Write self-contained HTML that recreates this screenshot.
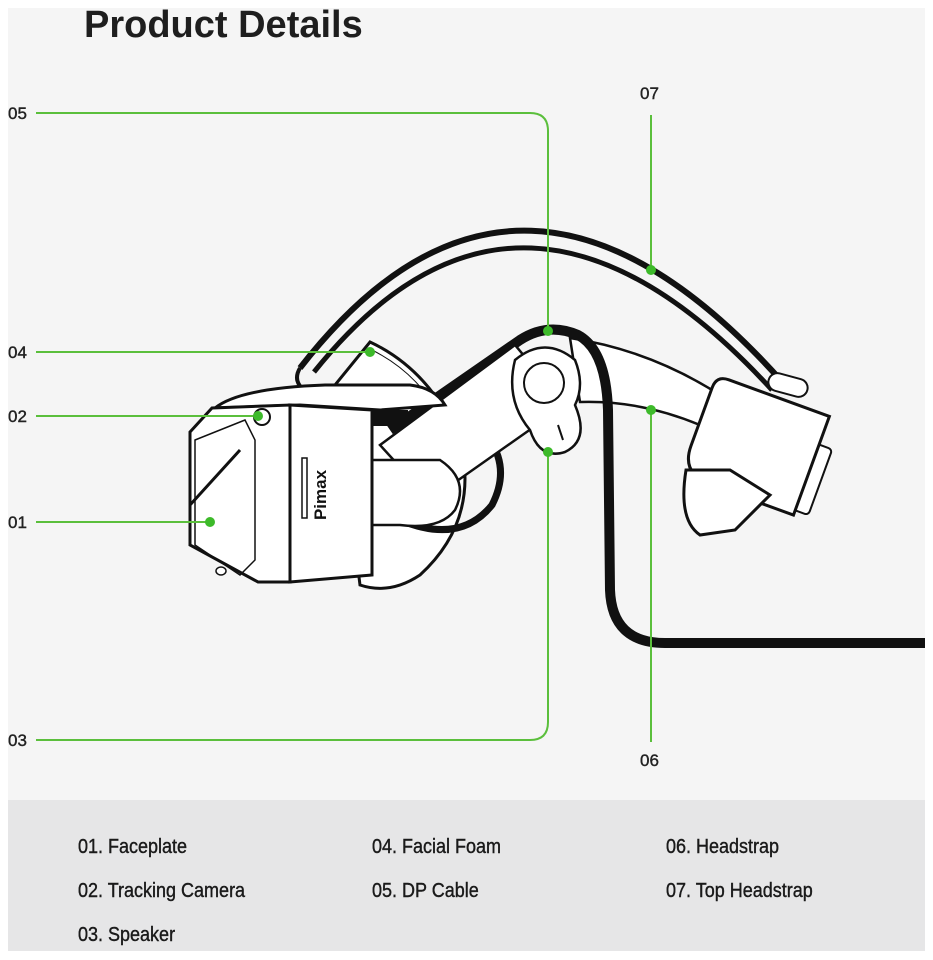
<!DOCTYPE html>
<html><head><meta charset="utf-8"><style>
html,body{margin:0;padding:0;background:#fff;}
body{width:933px;height:960px;position:relative;overflow:hidden;font-family:"Liberation Sans",sans-serif;}
.bg{position:absolute;left:8px;top:8px;width:917px;height:792px;background:#f5f5f5;}
.leg{position:absolute;left:8px;top:800px;width:917px;height:151px;background:#e6e6e7;}
.t{position:absolute;font-size:20px;color:#1a1a1a;white-space:nowrap;transform:scaleX(0.9);transform-origin:left top;-webkit-text-stroke:0.4px #1a1a1a;}
</style></head><body>
<div class="bg"></div>
<div class="leg"></div>
<div style="position:absolute;left:84px;top:4px;font-size:38px;font-weight:bold;color:#1e1e1e;">Product Details</div>
<svg width="933" height="960" style="position:absolute;left:0;top:0" xmlns="http://www.w3.org/2000/svg">
<g font-family="Liberation Sans" font-size="17" fill="#222" stroke="#222" stroke-width="0.4">
<text x="8" y="119">05</text><text x="8" y="358">04</text><text x="8" y="422">02</text>
<text x="8" y="528">01</text><text x="8" y="746">03</text>
<text x="640" y="99">07</text><text x="640" y="766">06</text>
</g>
<!-- top headstrap -->
<path d="M300,368 Q520,85 785,385" fill="none" stroke="#111" stroke-width="6"/>
<path d="M314,372 Q520,115 772,390" fill="none" stroke="#111" stroke-width="5"/>
<path d="M300,368 Q294,378 300,386" fill="none" stroke="#111" stroke-width="4"/>
<rect x="768" y="376" width="40" height="18" rx="9" fill="#fff" stroke="#111" stroke-width="2" transform="rotate(15 788 385)"/>
<!-- facial foam -->
<path d="M335,385 L370,342 Q430,370 460,440 Q480,520 420,575 Q390,595 360,585 Z" fill="#fff" stroke="#111" stroke-width="3"/>
<path d="M372,350 Q428,378 452,440" fill="none" stroke="#111" stroke-width="1"/>
<!-- back loop cable -->
<path d="M400,520 Q460,545 492,505 Q510,470 490,440" fill="none" stroke="#111" stroke-width="7"/>
<!-- headstrap arm to back -->
<path d="M570,338 Q650,350 720,395 L700,425 Q640,400 580,402 Z" fill="#fff" stroke="#111" stroke-width="2.5"/>
<!-- back box -->
<g transform="rotate(20 760 455)">
<rect x="808" y="425" width="18" height="70" rx="4" fill="#fff" stroke="#111" stroke-width="2"/>
<path d="M705,395 L812,395 L812,500 L725,500 Q692,500 692,470 L692,408 Q692,395 705,395 Z" fill="#fff" stroke="#111" stroke-width="3"/>
</g>
<path d="M686,470 Q678,520 700,535 L735,530 L770,495 L730,470 Z" fill="#fff" stroke="#111" stroke-width="3"/>
<!-- DP cable -->
<path d="M390,430 L520,340 Q548,322 578,335 Q606,350 608,410 L610,590 Q612,643 665,643 L925,643" fill="none" stroke="#111" stroke-width="10"/>
<!-- arm -->
<path d="M380,445 L515,345 L565,405 L430,500 Z" fill="#fff" stroke="#111" stroke-width="2.5"/>
<path d="M372,460 L440,460 Q470,480 455,510 Q440,530 400,525 L372,525 Z" fill="#fff" stroke="#111" stroke-width="2.5"/>
<!-- hinge -->
<path d="M515,360 Q545,335 575,360 Q585,385 575,405 Q590,440 565,452 Q540,460 530,430 Q505,400 515,360 Z" fill="#fff" stroke="#111" stroke-width="2.5"/>
<circle cx="544" cy="383" r="20" fill="#fff" stroke="#111" stroke-width="2"/>
<line x1="558" y1="425" x2="563" y2="440" stroke="#111" stroke-width="2"/>
<!-- top of headset -->
<path d="M215,408 Q240,388 325,385 L410,385 Q435,388 445,405 L380,410 L300,405 Z" fill="#fff" stroke="#111" stroke-width="3"/>
<rect x="368" y="410" width="40" height="16" fill="#111"/>
<!-- side box -->
<path d="M290,405 L372,410 L372,575 L290,582 Z" fill="#fff" stroke="#111" stroke-width="3"/>
<text transform="translate(326,495) rotate(-90)" text-anchor="middle" font-family="Liberation Sans" font-weight="bold" font-size="17" fill="#111">Pimax</text>
<rect x="302" y="458" width="5" height="60" fill="none" stroke="#111" stroke-width="1.5"/>
<!-- face plate -->
<path d="M190,432 L212,408 L290,405 L290,582 L258,582 L190,545 Z" fill="#fff" stroke="#111" stroke-width="3"/>
<path d="M195,440 L245,420 L255,440 L255,560 L240,575 L195,545 Z" fill="none" stroke="#111" stroke-width="1.5"/>
<path d="M190,505 L240,450" stroke="#111" stroke-width="3"/>
<circle cx="262" cy="417" r="8" fill="#fff" stroke="#111" stroke-width="2"/>
<ellipse cx="221" cy="571" rx="5" ry="4" fill="#fff" stroke="#111" stroke-width="1.5"/>
<!-- green leaders -->
<g fill="none" stroke="#5bbf3c" stroke-width="2">
<path d="M36,113 L530,113 Q548,113 548,131 L548,331"/>
<path d="M36,740 L530,740 Q548,740 548,722 L548,452"/>
<path d="M651,115 L651,270"/>
<path d="M651,410 L651,742"/>
<path d="M36,352 L370,352"/>
<path d="M36,416 L258,416"/>
<path d="M36,522 L210,522"/>
</g>
<g fill="#3dba2a">
<circle cx="548" cy="331" r="5"/><circle cx="548" cy="452" r="5"/>
<circle cx="651" cy="270" r="5"/><circle cx="651" cy="410" r="5"/>
<circle cx="370" cy="352" r="5"/><circle cx="258" cy="416" r="5"/><circle cx="210" cy="522" r="5"/>
</g>
</svg>
<div class="t" style="left:78px;top:836px">01. Faceplate</div>
<div class="t" style="left:78px;top:880px">02. Tracking Camera</div>
<div class="t" style="left:78px;top:924px">03. Speaker</div>
<div class="t" style="left:372px;top:836px">04. Facial Foam</div>
<div class="t" style="left:372px;top:880px">05. DP Cable</div>
<div class="t" style="left:666px;top:836px">06. Headstrap</div>
<div class="t" style="left:666px;top:880px">07. Top Headstrap</div>
</body></html>
